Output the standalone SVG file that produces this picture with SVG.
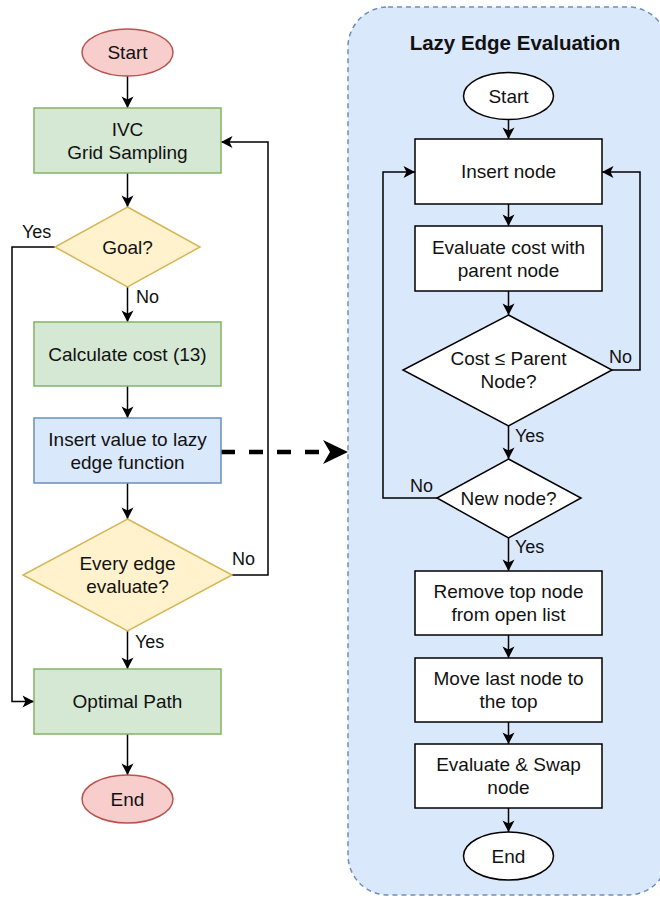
<svg xmlns="http://www.w3.org/2000/svg" width="660" height="899" viewBox="0 0 660 899">
<defs>
<marker id="arr" viewBox="-12 -7 14 14" refX="0" refY="0" markerWidth="14" markerHeight="14" markerUnits="userSpaceOnUse" orient="auto">
<path d="M0,0 L-11.5,-6 L-8.5,0 L-11.5,6 Z" fill="#000"/>
</marker>
<style>
text{font-family:"Liberation Sans",Arial,sans-serif;font-size:19px;fill:#111;text-anchor:middle}
.lbl{font-size:18px;text-anchor:start}
.title{font-weight:bold;font-size:20.5px}
.green{fill:#d5e8d4;stroke:#82b366;stroke-width:1.5}
.yellow{fill:#fff2cc;stroke:#d6b656;stroke-width:1.5}
.red{fill:#f8cecc;stroke:#b85450;stroke-width:1.5}
.blue{fill:#dae8fc;stroke:#6c8ebf;stroke-width:1.5}
.white{fill:#fff;stroke:#000;stroke-width:1.5}
.edge{fill:none;stroke:#000;stroke-width:1.5;marker-end:url(#arr)}
</style>
</defs>
<rect width="660" height="899" fill="#fff"/>
<g id="container">
<rect x="348" y="7" width="320" height="888" rx="40" ry="40" fill="#dae8fc" stroke="#6c8ebf" stroke-width="1.5" stroke-dasharray="5 4"/>
<text class="title" x="515" y="50">Lazy Edge Evaluation</text>
</g>
<g id="connectors">
<path class="edge" d="M127.5,76 V108"/>
<path class="edge" d="M127.5,173 V207"/>
<path class="edge" d="M127.5,287 V322"/>
<path class="edge" d="M55,247 H12 V701.5 H34"/>
<path class="edge" d="M127.5,386 V418"/>
<path class="edge" d="M127.5,483 V519"/>
<path class="edge" d="M232,575 H268 V142 H221"/>
<path class="edge" d="M127.5,631 V669"/>
<path class="edge" d="M127.5,734 V775"/>
<path d="M221,452 H320" fill="none" stroke="#000" stroke-width="4.5" stroke-dasharray="14 14"/>
<path d="M348,452 L323,440 L330,452 L323,464 Z" fill="#000"/>
<path class="edge" d="M508.5,119 V139"/>
<path class="edge" d="M508.5,204 V226"/>
<path class="edge" d="M508.5,291 V315"/>
<path class="edge" d="M612,370 H640 V172 H602"/>
<path class="edge" d="M508.5,426 V459"/>
<path class="edge" d="M437,498 H383 V172 H415"/>
<path class="edge" d="M508.5,538 V571"/>
<path class="edge" d="M508.5,635 V658"/>
<path class="edge" d="M508.5,722 V744"/>
<path class="edge" d="M508.5,808 V832"/>
<text class="lbl" x="22" y="238">Yes</text>
<text class="lbl" x="136" y="303">No</text>
<text class="lbl" x="232" y="565">No</text>
<text class="lbl" x="135" y="648">Yes</text>
<text class="lbl" x="609" y="363">No</text>
<text class="lbl" x="515" y="442">Yes</text>
<text class="lbl" x="410" y="492">No</text>
<text class="lbl" x="515" y="553">Yes</text>
</g>
<g id="start">
<ellipse class="red" cx="127.5" cy="52.5" rx="45.5" ry="23.5"/>
<text x="127.5" y="59">Start</text>
</g>
<g id="ivc">
<rect class="green" x="34" y="108" width="187" height="65"/>
<text x="127.5" y="135.7">IVC</text>
<text x="127.5" y="158.7">Grid Sampling</text>
</g>
<g id="goal">
<polygon class="yellow" points="127.5,207 200,247 127.5,287 55,247"/>
<text x="127.5" y="253.7">Goal?</text>
</g>
<g id="calc">
<rect class="green" x="34" y="322" width="187" height="64"/>
<text x="127.5" y="360.7">Calculate cost (13)</text>
</g>
<g id="insertvalue">
<rect class="blue" x="34" y="418" width="187" height="65"/>
<text x="127.5" y="445.7">Insert value to lazy</text>
<text x="127.5" y="468.7">edge function</text>
</g>
<g id="every">
<polygon class="yellow" points="127.5,519 232,575 127.5,631 23,575"/>
<text x="127.5" y="570">Every edge</text>
<text x="127.5" y="593">evaluate?</text>
</g>
<g id="optimal">
<rect class="green" x="34" y="669" width="187" height="65"/>
<text x="127.5" y="708">Optimal Path</text>
</g>
<g id="end">
<ellipse class="red" cx="127.5" cy="799" rx="45.5" ry="24"/>
<text x="127.5" y="805.7">End</text>
</g>
<g id="r-start">
<ellipse class="white" cx="508.5" cy="96" rx="45" ry="23.5"/>
<text x="508.5" y="102.7">Start</text>
</g>
<g id="r-insert">
<rect class="white" x="415" y="139" width="187" height="65"/>
<text x="508.5" y="178">Insert node</text>
</g>
<g id="r-evalcost">
<rect class="white" x="415" y="226" width="187" height="65"/>
<text x="508.5" y="253.7">Evaluate cost with</text>
<text x="508.5" y="276.7">parent node</text>
</g>
<g id="r-cost">
<polygon class="white" points="508.5,315 612,370 508.5,426 403,370"/>
<text x="508.5" y="365">Cost ≤ Parent</text>
<text x="508.5" y="388">Node?</text>
</g>
<g id="r-new">
<polygon class="white" points="508.5,459 581,498 508.5,538 437,498"/>
<text x="508.5" y="505">New node?</text>
</g>
<g id="r-remove">
<rect class="white" x="415" y="571" width="187" height="64"/>
<text x="508.5" y="598">Remove top node</text>
<text x="508.5" y="621">from open list</text>
</g>
<g id="r-move">
<rect class="white" x="415" y="658" width="187" height="64"/>
<text x="508.5" y="685">Move last node to</text>
<text x="508.5" y="708">the top</text>
</g>
<g id="r-swap">
<rect class="white" x="415" y="744" width="187" height="64"/>
<text x="508.5" y="771">Evaluate &amp; Swap</text>
<text x="508.5" y="794">node</text>
</g>
<g id="r-end">
<ellipse class="white" cx="508.5" cy="856" rx="45" ry="24"/>
<text x="508.5" y="862.7">End</text>
</g>
</svg>
